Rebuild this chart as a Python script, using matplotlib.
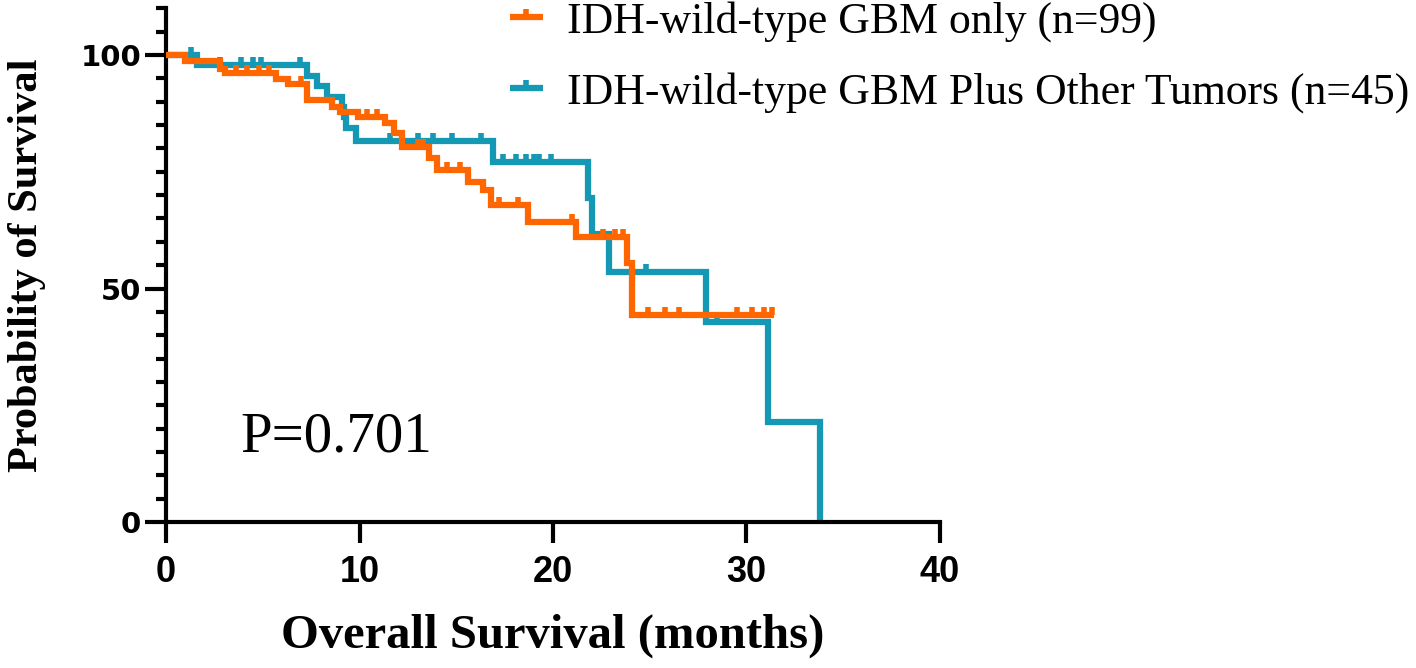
import numpy as np
import matplotlib
matplotlib.use("Agg")
import matplotlib.pyplot as plt
from matplotlib.path import Path
from matplotlib.lines import Line2D

# Kaplan-Meier steps (months, % surviving)
gbm_t = [0, 1.0, 2.8, 3.05, 5.7, 6.3, 7.3, 8.6, 9.0, 9.9, 11.3, 11.8, 12.2,
         13.6, 14.0, 15.6, 16.4, 16.8, 18.7, 21.2, 23.8, 24.1]
gbm_s = [100, 98.8, 97.0, 96.1, 94.9, 93.7, 90.3, 88.9, 87.8, 86.7, 85.4, 83.4, 80.3,
         78.0, 75.4, 72.8, 71.1, 67.9, 64.2, 61.1, 55.4, 44.3]
gbm_end = 31.4
gbm_cens = [3.6, 4.2, 4.8, 5.3, 7.0, 10.4, 10.9, 13.0, 13.3, 14.5, 15.2, 17.2, 18.2,
            21.0, 22.6, 23.2, 23.6, 24.9, 25.8, 26.5, 29.5, 30.3, 30.9, 31.3]

oth_t = [0, 1.6, 7.3, 7.8, 8.3, 9.1, 9.2, 9.3, 9.8, 16.9, 21.8, 22.0, 22.9, 27.9, 31.1, 33.8]
oth_s = [100, 97.8, 95.6, 93.3, 91.1, 88.9, 86.7, 84.4, 81.6, 77.1, 69.4, 61.7, 53.5, 42.8, 21.4, 0]
oth_cens = [1.3, 2.8, 3.9, 4.5, 4.9, 6.9, 11.6, 13.0, 13.8, 14.8, 16.3, 17.4, 18.1, 18.6,
            19.0, 19.3, 19.9, 24.8, 28.5]

labels = ["IDH-wild-type GBM only (n=99)", "IDH-wild-type GBM Plus Other Tumors (n=45)"]
colors = ["#FF6600", "#1598B4"]
p_text = "P=0.701"

tick_up = Path([(0, 0), (0, 1)])


def level_at(t, s, x):
    idx = np.searchsorted(t, x, side="right") - 1
    return np.asarray(s)[idx]


fig = plt.figure(figsize=(14.16, 6.68), dpi=100)
ax = fig.add_axes([166 / 1416, 1 - 522 / 668, (940 - 166) / 1416, (522 - 8.3) / 668])

lw = 4.5
curves = [(oth_t, oth_s, None, oth_cens, colors[1], 2),
          (gbm_t, gbm_s, gbm_end, gbm_cens, colors[0], 3)]
for t, s, end, cens, col, z in curves:
    tt = list(t)
    ss = list(s)
    if end is not None:
        tt.append(end)
        ss.append(ss[-1])
    ax.step(tt, ss, where="post", color=col, lw=lw, zorder=z,
            solid_joinstyle="miter", solid_capstyle="butt", clip_on=False)
    ax.plot(cens, level_at(t, s, cens), ls="none", marker=tick_up, ms=11.5,
            mew=4, color=col, zorder=z, clip_on=False)

ax.set_xlim(0, 40)
ax.set_ylim(0, 110)
ax.set_xticks([0, 10, 20, 30, 40])
ax.set_yticks([0, 50, 100])
ax.set_yticks(np.arange(0, 111, 5), minor=True)
for sp in ["top", "right"]:
    ax.spines[sp].set_visible(False)
for sp in ["left", "bottom"]:
    ax.spines[sp].set_linewidth(3)
ax.tick_params(axis="both", which="major", length=15, width=3, direction="out")
ax.tick_params(axis="y", which="minor", length=7.5, width=3, direction="out")
ax.tick_params(axis="x", pad=9)
ax.tick_params(axis="y", pad=3)

for lab in ax.get_xticklabels():
    lab.set_family(["Liberation Sans Narrow", "Liberation Sans"])
    lab.set_fontweight("bold")
    lab.set_fontsize(26)
for lab in ax.get_yticklabels():
    lab.set_family("DejaVu Sans")
    lab.set_fontweight("bold")
    lab.set_fontsize(21)

fig.text(27 / 1416, 1 - 265 / 668, "Probability of Survival", rotation=90,
         ha="center", va="center", family="Liberation Serif", weight="bold", fontsize=30.5)
fig.text(553 / 1416, 1 - 636 / 668, "Overall Survival (months)",
         ha="center", va="center", family="Liberation Serif", weight="bold", fontsize=35)
ax.text(240 / 1416, 1 - 438 / 668, p_text, transform=fig.transFigure,
        ha="left", va="center", family="Liberation Serif", fontsize=41)

handles = [Line2D([], [], color=colors[0], lw=lw, marker=tick_up, ms=11.5, mew=4,
                  solid_capstyle="butt"),
           Line2D([], [], color=colors[1], lw=lw, marker=tick_up, ms=11.5, mew=4,
                  solid_capstyle="butt")]
fig.legend(handles, labels, loc="upper left", bbox_to_anchor=(510 / 1416, 1 - 1 / 668),
           frameon=False, prop={"family": "Liberation Serif", "size": 31.5},
           handlelength=0.75, handletextpad=0.55, labelspacing=0.68,
           borderpad=0, borderaxespad=0, numpoints=1)

fig.savefig("out.png", dpi=100, facecolor="white")
